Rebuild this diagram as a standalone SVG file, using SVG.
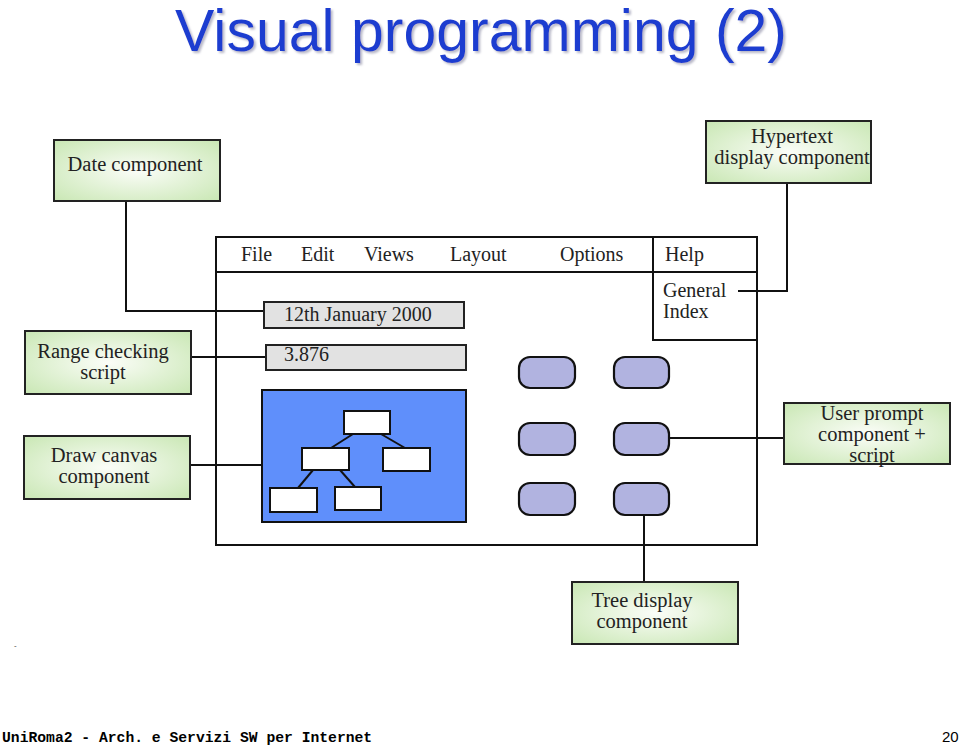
<svg xmlns="http://www.w3.org/2000/svg" width="960" height="746" viewBox="0 0 960 746">
<defs>
<radialGradient id="g" cx="50%" cy="50%" r="70%">
<stop offset="0" stop-color="#fbfdf8"/>
<stop offset="1" stop-color="#c9e7b4"/>
</radialGradient>
<filter id="sh" x="-5%" y="-20%" width="110%" height="140%">
<feDropShadow dx="2" dy="2" stdDeviation="1" flood-color="#9a9ab0" flood-opacity="0.7"/>
</filter>
<style>
.box{fill:url(#g);stroke:#222;stroke-width:2}
.t{font-family:"Liberation Serif","Times New Roman",serif;font-size:20.5px;fill:#222}
.m{font-family:"Liberation Serif","Times New Roman",serif;font-size:20px;fill:#222}
.ln{fill:none;stroke:#111;stroke-width:2}
.btn{fill:#b1b3e0;stroke:#111;stroke-width:2.2}
.node{fill:#fff;stroke:#111;stroke-width:2}
.fld{fill:#e2e2e2;stroke:#222;stroke-width:2}
</style>
</defs>
<rect width="960" height="746" fill="#fff"/>
<text x="481" y="51" text-anchor="middle" font-family="Liberation Sans, Arial, sans-serif" font-size="60" fill="#1e3ed0" textLength="612" lengthAdjust="spacingAndGlyphs" filter="url(#sh)">Visual programming (2)</text>

<g id="connectors">
<polyline class="ln" points="126,201 126,311 264,311"/>
<polyline class="ln" points="787,183 787,291 738,291"/>
<line class="ln" x1="191" y1="357" x2="266" y2="357"/>
<line class="ln" x1="190" y1="465" x2="262" y2="465"/>
<line class="ln" x1="668" y1="438" x2="784" y2="438"/>
<line class="ln" x1="644" y1="515" x2="644" y2="582"/>
</g>

<g id="window">
<rect x="216" y="237" width="541" height="308" fill="none" stroke="#111" stroke-width="2"/>
<line class="ln" x1="216" y1="272" x2="757" y2="272"/>
<polyline class="ln" points="653,237 653,340 757,340"/>
<text class="m" x="241" y="261">File</text>
<text class="m" x="301" y="261">Edit</text>
<text class="m" x="364" y="261">Views</text>
<text class="m" x="450" y="261">Layout</text>
<text class="m" x="560" y="261">Options</text>
<text class="m" x="665" y="261">Help</text>
<text class="m" x="663" y="297">General</text>
<text class="m" x="663" y="318">Index</text>
</g>

<g id="date-field">
<rect class="fld" x="264" y="302" width="200" height="26"/>
<text class="m" x="284" y="321">12th January 2000</text>
</g>
<g id="number-field">
<rect class="fld" x="266" y="345" width="200" height="25"/>
<text class="m" x="284" y="361">3.876</text>
</g>

<g id="canvas">
<rect x="262" y="390" width="204" height="132" fill="#5f8ffb" stroke="#111" stroke-width="2"/>
<g class="ln">
<line x1="353" y1="434" x2="331" y2="448"/>
<line x1="381" y1="434" x2="405" y2="448"/>
<line x1="313" y1="470" x2="298" y2="488"/>
<line x1="340" y1="470" x2="355" y2="487"/>
</g>
<rect class="node" x="344" y="411" width="46" height="23"/>
<rect class="node" x="302" y="448" width="47" height="22"/>
<rect class="node" x="383" y="448" width="47" height="23"/>
<rect class="node" x="270" y="488" width="47" height="24"/>
<rect class="node" x="335" y="487" width="46" height="23"/>
</g>

<g id="buttons">
<rect class="btn" x="519" y="357" width="56" height="31" rx="11"/>
<rect class="btn" x="614" y="357" width="55" height="31" rx="11"/>
<rect class="btn" x="519" y="423" width="56" height="32" rx="11"/>
<rect class="btn" x="614" y="423" width="55" height="32" rx="11"/>
<rect class="btn" x="519" y="483" width="56" height="32" rx="11"/>
<rect class="btn" x="614" y="483" width="55" height="32" rx="11"/>
</g>

<g id="date-component">
<rect class="box" x="54" y="140" width="166" height="61"/>
<text class="t" x="135" y="171" text-anchor="middle">Date component</text>
</g>
<g id="hypertext-component">
<rect class="box" x="706" y="121" width="165" height="62"/>
<text class="t" x="792" y="143" text-anchor="middle">Hypertext</text>
<text class="t" x="792" y="164" text-anchor="middle">display component</text>
</g>
<g id="range-checking">
<rect class="box" x="25" y="331" width="166" height="63"/>
<text class="t" x="103" y="358" text-anchor="middle">Range checking</text>
<text class="t" x="103" y="379" text-anchor="middle">script</text>
</g>
<g id="draw-canvas">
<rect class="box" x="24" y="436" width="166" height="63"/>
<text class="t" x="104" y="462" text-anchor="middle">Draw canvas</text>
<text class="t" x="104" y="483" text-anchor="middle">component</text>
</g>
<g id="user-prompt">
<rect class="box" x="784" y="403" width="166" height="61"/>
<text class="t" x="872" y="420" text-anchor="middle">User prompt</text>
<text class="t" x="872" y="441" text-anchor="middle">component +</text>
<text class="t" x="872" y="462" text-anchor="middle">script</text>
</g>
<g id="tree-display">
<rect class="box" x="572" y="582" width="166" height="62"/>
<text class="t" x="642" y="607" text-anchor="middle">Tree display</text>
<text class="t" x="642" y="628" text-anchor="middle">component</text>
</g>

<text x="14" y="648" font-family="Liberation Sans, Arial, sans-serif" font-size="8" fill="#444">-</text>
<text x="2" y="742" font-family="Liberation Mono, Courier New, monospace" font-weight="bold" font-size="14.7" fill="#000">UniRoma2 - Arch. e Servizi SW per Internet</text>
<text x="942" y="742" font-family="Liberation Sans, Arial, sans-serif" font-size="15" fill="#000">20</text>
</svg>
